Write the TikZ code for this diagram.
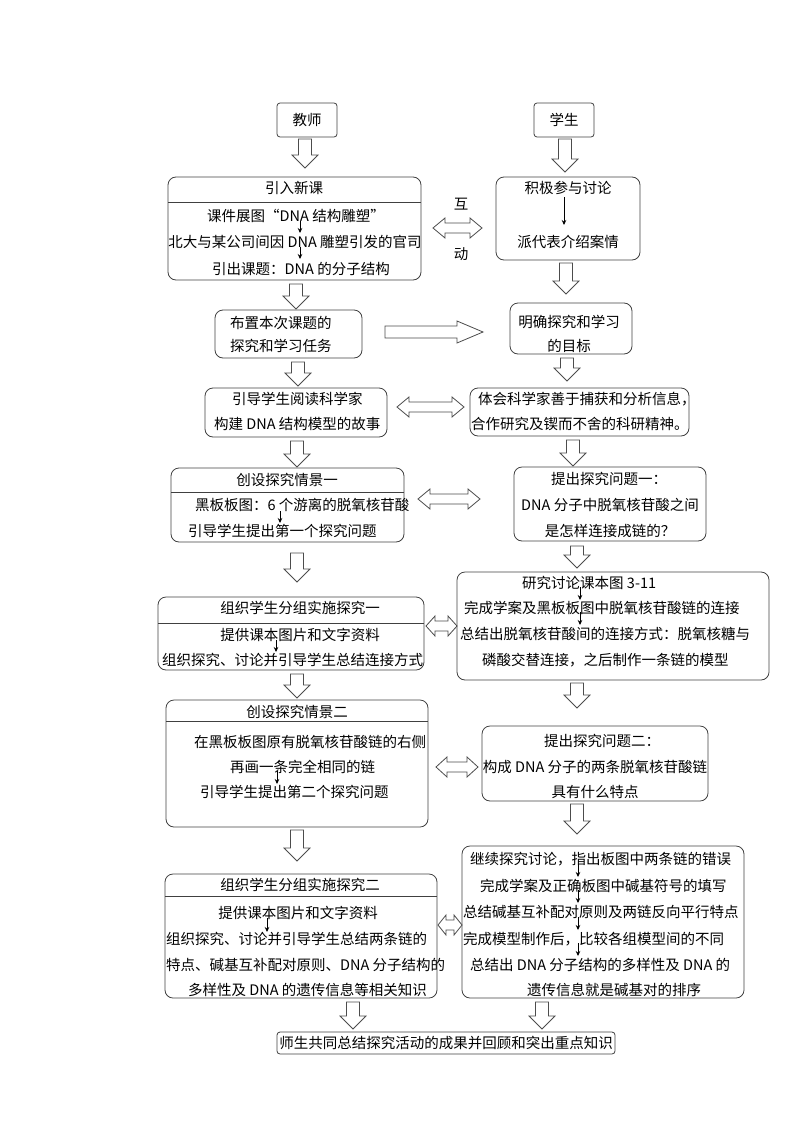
\documentclass[tikz,border=0pt]{standalone}
\usepackage{fontspec}
\setmainfont{Noto Sans CJK SC}
\usetikzlibrary{arrows.meta}
% hollow down arrow: x, top, bottom
\newcommand\hdown[3]{\draw[hollow] ({#1-6.5},#2) -- ({#1-6.5},{#3-13}) -- ({#1-13},{#3-13}) -- (#1,#3) -- ({#1+13},{#3-13}) -- ({#1+6.5},{#3-13}) -- ({#1+6.5},#2) -- cycle;}
% hollow double arrow: x1, x2, y, head length
\newcommand\hdbl[4]{\draw[hollow] (#1,#3) -- ({#1+#4},{#3-10}) -- ({#1+#4},{#3-5}) -- ({#2-#4},{#3-5}) -- ({#2-#4},{#3-10}) -- (#2,#3) -- ({#2-#4},{#3+10}) -- ({#2-#4},{#3+5}) -- ({#1+#4},{#3+5}) -- ({#1+#4},{#3+10}) -- cycle;}
% hollow right arrow: x1, x2, y
\newcommand\hright[3]{\draw[hollow] (#1,{#3-6}) -- ({#2-26},{#3-6}) -- ({#2-26},{#3-11}) -- (#2,#3) -- ({#2-26},{#3+11}) -- ({#2-26},{#3+6}) -- (#1,{#3+6}) -- cycle;}
\tikzset{
  box/.style={draw=black!75, line width=0.8pt, rounded corners=8pt, inner sep=0pt, outer sep=0pt},
  sbox/.style={box, rounded corners=3pt},
  hollow/.style={draw=black!70, line width=0.8pt, fill=white},
  sarr/.style={-{Stealth[length=5pt,width=4.5pt]}, line width=0.7pt},
  tw/.style={anchor=west, inner sep=0pt},
  tc/.style={anchor=center, inner sep=0pt},
  hline/.style={draw=black!75, line width=0.8pt},
}
\begin{document}
\begin{tikzpicture}[x=1pt,y=-1pt, every node/.append style={font=\fontsize{14.5}{17}\selectfont}]
\useasboundingbox (0,0) rectangle (800,1132);
% boxes
\node[sbox, minimum width=60pt, minimum height=34pt] (T) at (307,120) {};
\node[sbox, minimum width=60pt, minimum height=34pt] (S) at (564,120) {};
\node[box, minimum width=253pt, minimum height=103pt] (b1) at (294.5,228.5) {};
\node[box, minimum width=144pt, minimum height=83pt] (b2) at (568,218.5) {};
\node[box, minimum width=147pt, minimum height=48pt] (b3) at (288.5,334) {};
\node[box, minimum width=122pt, minimum height=51pt] (b4) at (571,328.5) {};
\node[box, minimum width=182pt, minimum height=49pt] (b5) at (296,412.5) {};
\node[box, minimum width=219pt, minimum height=48pt] (b6) at (579.5,412) {};
\node[box, minimum width=233pt, minimum height=74pt] (b7) at (287.5,505) {};
\node[box, minimum width=192pt, minimum height=74pt] (b8) at (610,504) {};
\node[box, minimum width=266pt, minimum height=73pt] (b9) at (291,633.5) {};
\node[box, minimum width=312pt, minimum height=108pt] (b10) at (613,626) {};
\node[box, minimum width=262pt, minimum height=127pt] (b11) at (297,763.5) {};
\node[box, minimum width=226pt, minimum height=75pt] (b12) at (595,763.5) {};
\node[box, minimum width=272pt, minimum height=124pt] (b13) at (301,936) {};
\node[box, minimum width=282pt, minimum height=152pt] (b14) at (603,922) {};
\node[sbox, minimum width=338pt, minimum height=22pt] (b15) at (446,1043) {};
% header lines
\draw[hline] (b1.west |- 0,202) -- (b1.east |- 0,202);
\draw[hline] (b7.west |- 0,492) -- (b7.east |- 0,492);
\draw[hline] (b9.west |- 0,623) -- (b9.east |- 0,623);
\draw[hline] (b11.west |- 0,721) -- (b11.east |- 0,721);
\draw[hline] (b13.west |- 0,896) -- (b13.east |- 0,896);
% hollow arrows
\hdown{305}{139}{168}
\hdown{565}{139}{172}
\hdown{296}{284}{309}
\hdown{566}{263}{294}
\hdown{298}{362}{386}
\hdown{567}{358}{381}
\hdown{297}{441}{467}
\hdown{573}{440}{466}
\hdown{297}{553}{582}
\hdown{577}{546}{568}
\hdown{297}{674}{698}
\hdown{577}{683}{708}
\hdown{297}{830}{861}
\hdown{577}{804}{834}
\hdown{353}{1002}{1029}
\hdown{542}{1002}{1029}
\hdbl{433}{482}{228}{12}
\hdbl{397}{464}{407}{12}
\hdbl{418}{480}{499}{12}
\hdbl{426}{457}{626}{9}
\hdbl{436}{478}{767}{11}
\hdbl{438}{462}{925}{8}
\hright{385}{483}{332}
% texts
\node[tc] (tT) at (307,120) {教师};
\node[tc] (tS) at (564,120) {学生};
\node[tc] (t1a) at (294,188) {引入新课};
\node[tc] (t1b) at (296,216) {课件展图“DNA 结构雕塑”};
\node[tc] (t1c) at (295,242) {北大与某公司间因 DNA 雕塑引发的官司};
\node[tc] (t1d) at (301,269) {引出课题：DNA 的分子结构};
\node[tc] (t2a) at (568,188) {积极参与讨论};
\node[tc] (t2b) at (568,242) {派代表介绍案情};
\node[tc] (hu) at (461,204) {互};
\node[tc] (dong) at (461,254) {动};
\node[tw] (t3a) at (230,323) {布置本次课题的};
\node[tw] (t3b) at (230,346) {探究和学习任务};
\node[tc] (t4a) at (569,322) {明确探究和学习};
\node[tc] (t4b) at (569,346) {的目标};
\node[tw] (t5a) at (232,399) {引导学生阅读科学家};
\node[tw] (t5b) at (214,424) {构建 DNA 结构模型的故事};
\node[tw] (t6a) at (478,399) {体会科学家善于捕获和分析信息，};
\node[tw] (t6b) at (471,424) {合作研究及锲而不舍的科研精神。};
\node[tc] (t7a) at (287,480) {创设探究情景一};
\node[tw] (t7b) at (195,505) {黑板板图：6 个游离的脱氧核苷酸};
\node[tw] (t7c) at (188,531) {引导学生提出第一个探究问题};
\node[tc] (t8a) at (609,479) {提出探究问题一：};
\node[tc] (t8b) at (610,505) {DNA 分子中脱氧核苷酸之间};
\node[tc] (t8c) at (610,531) {是怎样连接成链的？};
\node[tc] (t9a) at (300,608) {组织学生分组实施探究一};
\node[tc] (t9b) at (300,635) {提供课本图片和文字资料};
\node[tw] (t9c) at (162,660) {组织探究、讨论并引导学生总结连接方式};
\node[tw] (t10a) at (522,583) {研究讨论课本图 3-11};
\node[tw] (t10b) at (464,608) {完成学案及黑板板图中脱氧核苷酸链的连接};
\node[tw] (t10c) at (460,634) {总结出脱氧核苷酸间的连接方式：脱氧核糖与};
\node[tw] (t10d) at (482,660) {磷酸交替连接，之后制作一条链的模型};
\node[tc] (t11a) at (297,712) {创设探究情景二};
\node[tw] (t11b) at (194,742) {在黑板板图原有脱氧核苷酸链的右侧};
\node[tw] (t11c) at (230,767) {再画一条完全相同的链};
\node[tw] (t11d) at (200,792) {引导学生提出第二个探究问题};
\node[tc] (t12a) at (602,741) {提出探究问题二：};
\node[tc] (t12b) at (595,767) {构成 DNA 分子的两条脱氧核苷酸链};
\node[tc] (t12c) at (595,792) {具有什么特点};
\node[tc] (t13a) at (300,885) {组织学生分组实施探究二};
\node[tc] (t13b) at (298,913) {提供课本图片和文字资料};
\node[tw] (t13c) at (166,939) {组织探究、讨论并引导学生总结两条链的};
\node[tw] (t13d) at (166,965) {特点、碱基互补配对原则、DNA 分子结构的};
\node[tw] (t13e) at (188,990) {多样性及 DNA 的遗传信息等相关知识};
\node[tw] (t14a) at (470,859) {继续探究讨论，指出板图中两条链的错误};
\node[tw] (t14b) at (480,886) {完成学案及正确板图中碱基符号的填写};
\node[tw] (t14c) at (463,912) {总结碱基互补配对原则及两链反向平行特点};
\node[tw] (t14d) at (463,939) {完成模型制作后，比较各组模型间的不同};
\node[tw] (t14e) at (470,965) {总结出 DNA 分子结构的多样性及 DNA 的};
\node[tw] (t14f) at (527,990) {遗传信息就是碱基对的排序};
\node[tc] (t15) at (446,1043) {师生共同总结探究活动的成果并回顾和突出重点知识};
% small arrows
\foreach \x/\ya/\yb [count=\i] in {300/221/233, 300/247/259, 564/197/225, 280/511/523, 276/640/652, 580/587/600, 580/612/625, 277/771/784, 267/918/932, 578/864/877, 578/890/903, 578/917/930, 578/943/956}{
  \coordinate (sa\i) at (\x,\ya);
  \coordinate (sb\i) at (\x,\yb);
  \draw[sarr] (sa\i) -- (sb\i);
}
\end{tikzpicture}
\end{document}
